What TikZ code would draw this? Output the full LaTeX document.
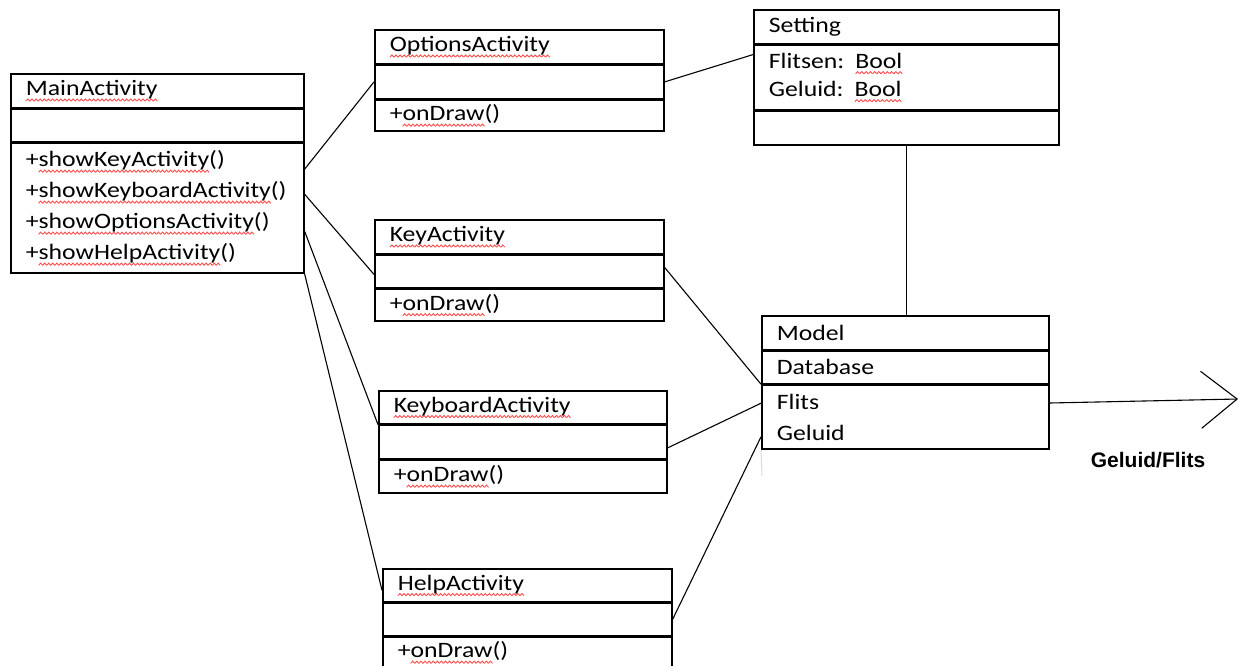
\documentclass[tikz,border=0pt]{standalone}
\usepackage{fontspec}
\setmainfont[FakeStretch=1.17]{Carlito}
\newfontfamily\labelfont{Liberation Sans}
\usetikzlibrary{positioning}
\usetikzlibrary{arrows.meta}
\newsavebox\sqbox
\newcommand\wave{\tikz[x=1pt,y=1pt]{\useasboundingbox (0,0) rectangle (4,2);\draw[red!70,line width=0.9pt] (0,0) -- (2,2.2) -- (4,0);}}
\newcommand\sq[1]{\sbox\sqbox{#1}\rlap{\lower5.5pt\hbox to\wd\sqbox{\xleaders\hbox{\wave}\hfill}}\usebox\sqbox}
\tikzstyle{part}=[draw,line width=1.6pt,rectangle,anchor=north west,inner xsep=15pt,inner ysep=0pt,align=left,font=\fontsize{22}{31}\selectfont]
\tikzstyle{link}=[line width=1.1pt]

\begin{document}
\begin{tikzpicture}[x=1pt,y=-1pt]
\fill[white] (0,0) rectangle (1241,665);
\useasboundingbox (0,0) rectangle (1241,665);

% MainActivity
\node[part,text width=263pt,minimum height=34pt] (main) at (10,73) {\sq{MainActivity}};
\node[part,text width=263pt,minimum height=32pt,below=0pt of main] (main-a) {};
\node[part,text width=263pt,minimum height=130pt,below=0pt of main-a] (main-m) {+\sq{showKeyActivity}()\\+\sq{showKeyboardActivity}()\\+\sq{showOptionsActivity}()\\+\sq{showHelpActivity}()};

% OptionsActivity
\node[part,text width=259pt,minimum height=34pt] (opts) at (374,29) {\sq{OptionsActivity}};
\node[part,text width=259pt,minimum height=33pt,below=0pt of opts] (opts-a) {};
\node[part,text width=259pt,minimum height=31pt,below=0pt of opts-a] (opts-m) {+\sq{onDraw}()};

% Setting
\node[part,text width=275pt,minimum height=34pt] (setting) at (753,9) {Setting};
\node[part,text width=275pt,minimum height=64pt,below=0pt of setting,font=\fontsize{22}{28}\selectfont] (setting-a) {Flitsen: \sq{Bool}\\Geluid: \sq{Bool}};
\node[part,text width=275pt,minimum height=34pt,below=0pt of setting-a] (setting-m) {};

% KeyActivity
\node[part,text width=259pt,minimum height=34pt] (key) at (374,219) {\sq{KeyActivity}};
\node[part,text width=259pt,minimum height=32pt,below=0pt of key] (key-a) {};
\node[part,text width=259pt,minimum height=32pt,below=0pt of key-a] (key-m) {+\sq{onDraw}()};

% KeyboardActivity
\node[part,text width=258pt,minimum height=33pt] (kbd) at (378,390) {\sq{KeyboardActivity}};
\node[part,text width=258pt,minimum height=33pt,below=0pt of kbd] (kbd-a) {};
\node[part,text width=258pt,minimum height=33pt,below=0pt of kbd-a] (kbd-m) {+\sq{onDraw}()};

% HelpActivity
\node[part,text width=259pt,minimum height=33pt] (help) at (382,568) {\sq{HelpActivity}};
\node[part,text width=259pt,minimum height=32pt,below=0pt of help] (help-a) {};
\node[part,text width=259pt,minimum height=31pt,below=0pt of help-a] (help-m) {+\sq{onDraw}()};

% Model
\node[part,text width=257pt,minimum height=34pt] (model) at (761,315) {Model};
\node[part,text width=257pt,minimum height=32pt,below=0pt of model] (model-a) {Database};
\node[part,text width=257pt,minimum height=64pt,below=0pt of model-a] (model-m) {Flits\\Geluid};

\coordinate (tail) at (762,476);
\coordinate (out) at (1238,399);

\draw[link] ([yshift=-27pt]main-m.north east) -- (opts-a.west);
\draw[link] ([yshift=-52pt]main-m.north east) -- ([yshift=-3pt]key-a.west);
\draw[link] ([yshift=-89pt]main-m.north east) -- (kbd.south west);
\draw[link] (main-m.south east) -- ([yshift=-5pt]help.west);
\draw[link] (opts-a.east) -- ([yshift=-10pt]setting-a.north west);
\draw[link] ([yshift=4pt]key-a.east) -- (model-a.south west);
\draw[link] ([yshift=-6pt]kbd-a.east) -- ([yshift=-19pt]model-m.north west);
\draw[link] (help-a.east) -- ([yshift=13pt]model-m.south west);
\draw[link] (setting-m.south) -- (setting-m.south |- model.north);
\draw[link,-{Straight Barb[length=36pt,width=57pt]}] ([yshift=14pt]model-m.east) -- (out);
\draw[gray!30,line width=1pt] (model-m.south west) -- (tail);

\node[font=\labelfont\bfseries\fontsize{21}{24}\selectfont] (lbl) at (1148,460) {Geluid/Flits};

\end{tikzpicture}
\end{document}
